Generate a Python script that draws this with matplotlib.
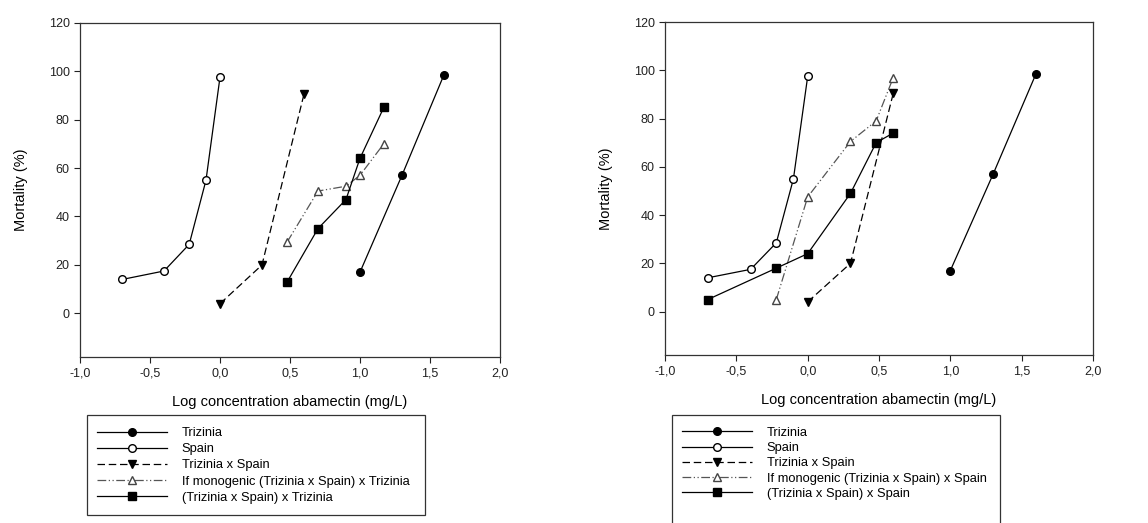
import numpy as np
import matplotlib
matplotlib.use("Agg")
from matplotlib import pyplot as plt
from matplotlib.patches import Rectangle

plt.rcParams['font.family'] = ['Liberation Sans', 'DejaVu Sans']

# data (log concentration, mortality %)
trizinia_x = [1.0, 1.3, 1.6]
trizinia_y = [17, 57, 98.5]
spain_x = [-0.7, -0.4, -0.22, -0.1, 0.0]
spain_y = [14, 17.5, 28.5, 55, 97.5]
cross_x = [0.0, 0.3, 0.6]
cross_y = [4, 20, 90.5]

# left panel: backcross to Trizinia
mono_t_x = [0.48, 0.7, 0.9, 1.0, 1.17]
mono_t_y = [29.5, 50.5, 52.5, 57, 70]
back_t_x = [0.48, 0.7, 0.9, 1.0, 1.17]
back_t_y = [13, 35, 47, 64, 85]

# right panel: backcross to Spain
mono_s_x = [-0.22, 0.0, 0.3, 0.48, 0.6]
mono_s_y = [5, 47.5, 70.5, 79, 97]
back_s_x = [-0.7, -0.22, 0.0, 0.3, 0.48, 0.6]
back_s_y = [5, 18, 24, 49, 70, 74]

xticks = [-1.0, -0.5, 0.0, 0.5, 1.0, 1.5, 2.0]
yticks = [0, 20, 40, 60, 80, 100, 120]

fig = plt.figure(figsize=(11.48, 5.23), dpi=100)


def panel(rect, mono_x, mono_y, back_x, back_y, parent, leg_rect, leg_anchor, spacing):
    ax = fig.add_axes(rect)
    ms = 5.5
    ax.plot(trizinia_x, trizinia_y, '-', color='k', lw=0.9, marker='o', ms=ms,
            mfc='k', mec='k', label='Trizinia')
    ax.plot(spain_x, spain_y, '-', color='k', lw=0.9, marker='o', ms=ms,
            mfc='white', mec='k', label='Spain')
    ax.plot(cross_x, cross_y, color='k', lw=0.9, dashes=(6, 3), marker='v', ms=ms,
            mfc='k', mec='k', label='Trizinia x Spain')
    ax.plot(mono_x, mono_y, color='#555555', lw=0.9, dashes=(7, 2, 1, 2, 1, 2),
            marker='^', ms=ms, mfc='white', mec='#444444',
            label='If monogenic (Trizinia x Spain) x ' + parent)
    ax.plot(back_x, back_y, '-', color='k', lw=0.9, marker='s', ms=ms,
            mfc='k', mec='k', label='(Trizinia x Spain) x ' + parent)

    ax.set_xlim(-1.0, 2.0)
    ax.set_ylim(-18, 120)
    ax.set_xticks(xticks)
    ax.set_xticklabels([('%.1f' % v).replace('.', ',') for v in xticks])
    ax.set_yticks(yticks)
    ax.tick_params(direction='out', length=4, width=0.8, labelsize=9, colors='#222222')
    for s in ax.spines.values():
        s.set_linewidth(0.9)
        s.set_color('#333333')
    ax.set_xlabel('Log concentration abamectin (mg/L)', fontsize=10.5, labelpad=11)
    ax.set_ylabel('Mortality (%)', fontsize=10.5, labelpad=15)

    # legend box drawn below the axes
    fig.patches.append(Rectangle(leg_rect[:2], leg_rect[2], leg_rect[3],
                                 transform=fig.transFigure, fill=False,
                                 ec='#333333', lw=0.9))
    fig.legend(*ax.get_legend_handles_labels(), loc='upper left',
               bbox_to_anchor=leg_anchor, bbox_transform=fig.transFigure,
               frameon=False, fontsize=9.3, handlelength=5.4, handletextpad=1.15,
               labelspacing=spacing, borderpad=0, borderaxespad=0, numpoints=1)
    return ax


panel([0.0697, 0.3174, 0.3658, 0.6392], mono_t_x, mono_t_y, back_t_x, back_t_y,
      'Trizinia', (0.0758, 0.0153, 0.2944, 0.1912), (0.0845, 0.1835), 0.32)
panel([0.5793, 0.3212, 0.3728, 0.6367], mono_s_x, mono_s_y, back_s_x, back_s_y,
      'Spain', (0.5854, -0.05, 0.2857, 0.2565), (0.5940, 0.1840), 0.25)

fig.savefig('out.png', dpi=100)
